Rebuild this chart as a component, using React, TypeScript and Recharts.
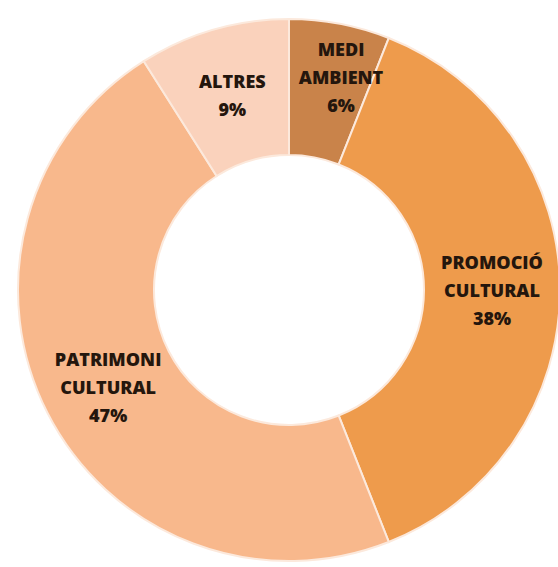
import { PieChart, Pie, Cell } from 'recharts'

const categories = ['MEDI AMBIENT', 'PROMOCIÓ CULTURAL', 'PATRIMONI CULTURAL', 'ALTRES']
const shares = [6, 38, 47, 9]
const sliceColors = ['#C9834A', '#EE9B4C', '#F8B88C', '#FAD2BC']

const chartData = categories.map((name, i) => ({ name, value: shares[i] }))

const RADIAN = Math.PI / 180

// Excel pushes the small slice's label up and right since it does not fit
const nudge: Record<number, [number, number]> = { 0: [14, -14], 2: [0, 5] }

const renderLabel = (props: any) => {
  const { cx, cy, midAngle, innerRadius, outerRadius, index, name, value } = props
  const r = (innerRadius + outerRadius) / 2
  const [dx, dy] = nudge[index] || [0, 0]
  const x = cx + r * Math.cos(-midAngle * RADIAN) + dx
  const y = cy + r * Math.sin(-midAngle * RADIAN) + dy
  const lines = [...String(name).split(' '), `${value}%`]
  const lh = 28
  const top = y - ((lines.length - 1) * lh) / 2
  return (
    <text
      x={x}
      y={top}
      textAnchor="middle"
      dominantBaseline="central"
      fill="#24160d"
      fontSize={18}
      fontWeight={800}
      fontFamily="'Open Sans', sans-serif"
    >
      {lines.map((l, i) => (
        <tspan key={i} x={x} dy={i === 0 ? 0 : lh}>
          {l}
        </tspan>
      ))}
    </text>
  )
}

export default function App() {
  return (
    <div style={{ position: 'absolute', left: 0, top: 0, width: 558, height: 567, background: '#fff' }}>
      <PieChart width={558} height={567}>
        <Pie
          data={chartData}
          dataKey="value"
          nameKey="name"
          cx={284}
          cy={285}
          innerRadius={135}
          outerRadius={271}
          startAngle={90}
          endAngle={-270}
          stroke="#FCE9DC"
          strokeWidth={2}
          label={renderLabel}
          labelLine={false}
          isAnimationActive={false}
        >
          {chartData.map((entry, i) => (
            <Cell key={entry.name} fill={sliceColors[i]} />
          ))}
        </Pie>
      </PieChart>
    </div>
  )
}
